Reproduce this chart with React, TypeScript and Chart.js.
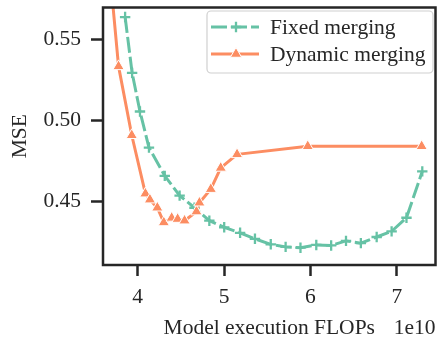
import React, { useEffect, useRef } from 'react';
import { Chart, registerables } from 'chart.js';
Chart.register(...registerables);

const fixedX = [3.854, 3.935, 4.026, 4.130, 4.313, 4.485, 4.657, 4.829, 5.001, 5.185, 5.357, 5.540, 5.712, 5.884, 6.067, 6.239, 6.411, 6.583, 6.766, 6.939, 7.111, 7.294];
const fixedY = [0.5639, 0.5294, 0.5055, 0.4832, 0.4657, 0.4535, 0.4460, 0.4380, 0.4339, 0.4305, 0.4268, 0.4234, 0.4218, 0.4213, 0.4230, 0.4227, 0.4255, 0.4241, 0.4279, 0.4314, 0.4398, 0.4685];
const dynX = [3.68, 3.778, 3.931, 4.089, 4.141, 4.227, 4.302, 4.393, 4.462, 4.542, 4.68, 4.714, 4.846, 4.961, 5.150, 5.968, 7.287];
const dynY = [0.590, 0.5334, 0.4908, 0.4547, 0.451, 0.446, 0.4369, 0.4397, 0.439, 0.438, 0.4436, 0.4491, 0.4575, 0.4706, 0.479, 0.484, 0.484];
const xTicks = [4, 5, 6, 7];
const yTicks = [0.45, 0.5, 0.55];
const seriesNames = ['Fixed merging', 'Dynamic merging'];
const xTitle = 'Model execution FLOPs';
const yTitle = 'MSE';
const xOffsetText = '1e10';

const GREEN = '#66c2a5';
const ORANGE = '#fc8d62';
const INK = '#262626';
const FONT = '"Liberation Serif", "DejaVu Serif", serif';
const FS = 21.5;
const LW = 3;

const noPad = (s: any) => {
  s.paddingTop = 0;
  s.paddingBottom = 0;
  s.paddingLeft = 0;
  s.paddingRight = 0;
};

const decor = {
  id: 'decor',
  afterDatasetsDraw(chart: any) {
    const { ctx, chartArea: a } = chart;
    ctx.save();
    ctx.strokeStyle = INK;
    ctx.lineWidth = 2.5;
    ctx.strokeRect(a.left, a.top, a.right - a.left, a.bottom - a.top);
    ctx.fillStyle = INK;
    ctx.font = `${FS}px ${FONT}`;
    ctx.textBaseline = 'middle';
    ctx.textAlign = 'center';
    ctx.fillText(xTitle, (a.left + a.right) / 2, 328);
    ctx.textAlign = 'right';
    ctx.fillText(xOffsetText, a.right, 328);
    ctx.save();
    ctx.translate(20, (a.top + a.bottom) / 2);
    ctx.rotate(-Math.PI / 2);
    ctx.textAlign = 'center';
    ctx.fillText(yTitle, 0, 0);
    ctx.restore();
    const bx = 207, by = 11, bw = 226, bh = 62, r = 4;
    ctx.beginPath();
    ctx.moveTo(bx + r, by);
    ctx.arcTo(bx + bw, by, bx + bw, by + bh, r);
    ctx.arcTo(bx + bw, by + bh, bx, by + bh, r);
    ctx.arcTo(bx, by + bh, bx, by, r);
    ctx.arcTo(bx, by, bx + bw, by, r);
    ctx.closePath();
    ctx.fillStyle = 'rgba(255,255,255,0.8)';
    ctx.fill();
    ctx.strokeStyle = '#d0d0d0';
    ctx.lineWidth = 1.2;
    ctx.stroke();
    const rows = [27, 54];
    const colors = [GREEN, ORANGE];
    rows.forEach((ry, i) => {
      ctx.beginPath();
      ctx.strokeStyle = colors[i];
      ctx.lineWidth = LW;
      ctx.setLineDash(i === 0 ? [16, 4] : []);
      ctx.moveTo(211, ry);
      ctx.lineTo(259, ry);
      ctx.stroke();
      ctx.setLineDash([]);
      if (i === 0) {
        ctx.beginPath();
        ctx.lineWidth = 2.3;
        ctx.moveTo(236 - 5.2, ry);
        ctx.lineTo(236 + 5.2, ry);
        ctx.moveTo(236, ry - 5.2);
        ctx.lineTo(236, ry + 5.2);
        ctx.stroke();
      } else {
        const rr = 6.5;
        ctx.beginPath();
        for (let k = 0; k < 3; k++) {
          const ang = (k * 2 * Math.PI) / 3;
          const px = 236 + Math.sin(ang) * rr;
          const py = ry - Math.cos(ang) * rr;
          if (k === 0) ctx.moveTo(px, py); else ctx.lineTo(px, py);
        }
        ctx.closePath();
        ctx.fillStyle = ORANGE;
        ctx.fill();
        ctx.strokeStyle = '#ffffff';
        ctx.lineWidth = 1;
        ctx.stroke();
      }
      ctx.fillStyle = INK;
      ctx.font = `${FS}px ${FONT}`;
      ctx.textAlign = 'left';
      ctx.textBaseline = 'middle';
      ctx.fillText(seriesNames[i], 270, ry + 1);
    });
    ctx.restore();
  },
};

export default function App() {
  const ref = useRef<HTMLCanvasElement>(null);
  useEffect(() => {
    document.body.style.margin = '0';
    const canvas = ref.current!;
    const chart = new Chart(canvas, {
      type: 'line',
      data: {
        datasets: [
          {
            label: seriesNames[0],
            data: fixedX.map((x, i) => ({ x, y: fixedY[i] })),
            borderColor: GREEN,
            backgroundColor: GREEN,
            borderWidth: LW,
            borderDash: [16, 4],
            borderCapStyle: 'butt',
            borderJoinStyle: 'round',
            pointStyle: 'cross',
            pointRadius: 5.2,
            pointBorderWidth: 2.3,
            pointBorderColor: GREEN,
            tension: 0,
            order: 1,
          },
          {
            label: seriesNames[1],
            data: dynX.map((x, i) => ({ x, y: dynY[i] })),
            borderColor: ORANGE,
            backgroundColor: ORANGE,
            borderWidth: LW,
            borderCapStyle: 'butt',
            borderJoinStyle: 'round',
            pointStyle: 'triangle',
            pointRadius: 6.5,
            pointBorderWidth: 1,
            pointBorderColor: '#ffffff',
            pointBackgroundColor: ORANGE,
            tension: 0,
            order: 0,
          },
        ] as any,
      },
      options: {
        animation: false,
        responsive: false,
        devicePixelRatio: 1,
        layout: { padding: { top: 5, right: 5, left: 0, bottom: 0 } },
        plugins: { legend: { display: false }, tooltip: { enabled: false } },
        scales: {
          x: {
            type: 'linear',
            min: 3.598,
            max: 7.447,
            afterBuildTicks: (s: any) => { s.ticks = xTicks.map((v) => ({ value: v })); },
            afterFit: (s: any) => { s.height = 76; noPad(s); },
            ticks: {
              callback: (v: any) => String(v),
              color: INK,
              font: { family: FONT, size: FS },
              padding: 8,
              maxRotation: 0,
            },
            grid: { drawOnChartArea: false, drawTicks: true, tickLength: 11, tickWidth: 2.5, tickColor: INK },
            border: { display: false },
          },
          y: {
            type: 'linear',
            min: 0.4106,
            max: 0.5698,
            afterBuildTicks: (s: any) => { s.ticks = yTicks.map((v) => ({ value: v })); },
            afterFit: (s: any) => { s.width = 103; noPad(s); },
            ticks: {
              callback: (v: any) => Number(v).toFixed(2),
              color: INK,
              font: { family: FONT, size: FS },
              padding: 10,
            },
            grid: { drawOnChartArea: false, drawTicks: true, tickLength: 12, tickWidth: 2.5, tickColor: INK },
            border: { display: false },
          },
        },
      },
      plugins: [decor],
    });
    return () => chart.destroy();
  }, []);
  return (
    <div style={{ width: 443, height: 341 }}>
      <canvas ref={ref} width={443} height={341} style={{ display: 'block' }} />
    </div>
  );
}
